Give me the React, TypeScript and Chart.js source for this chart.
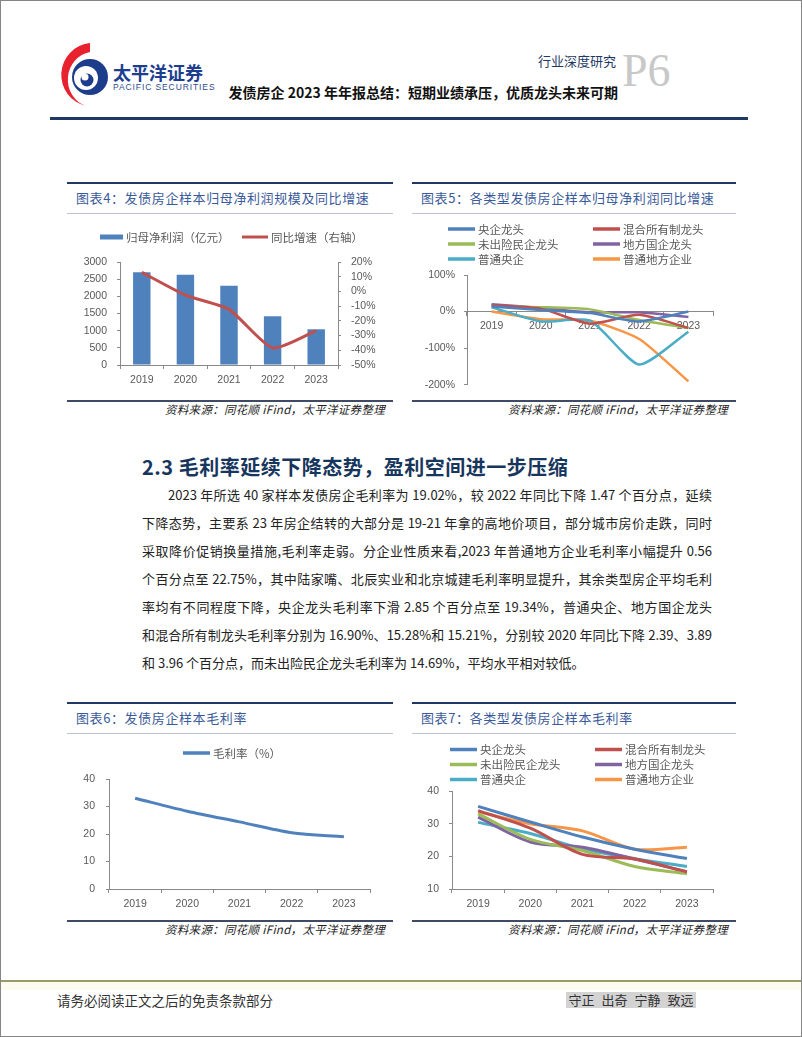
import React, { useEffect, useRef } from 'react';
import { Chart, registerables } from 'chart.js';

Chart.register(...registerables);

// ---------- data ----------
const YEARS = ['2019', '2020', '2021', '2022', '2023'];

// 图表4
const NET_PROFIT = [2700, 2630, 2310, 1420, 1040];
const NET_PROFIT_YOY = [13.0, -2.5, -12.2, -38.4, -26.7];

// 图表5 / 图表7 series names & colours
const TYPE_NAMES = ['央企龙头', '混合所有制龙头', '未出险民企龙头', '地方国企龙头', '普通央企', '普通地方企业'];
const TYPE_COLORS = ['#4F81BD', '#C0504D', '#9BBB59', '#8064A2', '#4BACC6', '#F79646'];

// 图表5 (%)
const YOY_SOE_LEADER = [14, 4, -4, -27, 0];
const YOY_MIXED_LEADER = [17, 8, -33, -9, -45];
const YOY_PRIVATE_LEADER = [14, 12, 6, -23, -45];
const YOY_LOCAL_SOE_LEADER = [20, 10, -2, -2, -15];
const YOY_SOE_ORDINARY = [12, -27, -25, -145, -55];
const YOY_LOCAL_ORDINARY = [0, -21, -25, -75, -191];

// 图表6 (%)
const GROSS_MARGIN = [33.0, 28.3, 24.4, 20.49, 19.02];

// 图表7 (%)
const GM_SOE_LEADER = [35.3, 30.5, 25.9, 22.19, 19.34];
const GM_MIXED_LEADER = [34.0, 28.6, 20.6, 19.17, 15.21];
const GM_PRIVATE_LEADER = [33.0, 25.2, 21.8, 16.9, 14.69];
const GM_LOCAL_SOE_LEADER = [32.0, 24.4, 22.8, 19.17, 15.28];
const GM_SOE_ORDINARY = [30.4, 27.0, 22.3, 19.29, 16.9];
const GM_LOCAL_ORDINARY = [33.6, 30.0, 27.8, 22.19, 22.75];

const PARAGRAPH_LINES = [
  '2023 年所选 40 家样本发债房企毛利率为 19.02%，较 2022 年同比下降 1.47 个百分点，延续',
  '下降态势，主要系 23 年房企结转的大部分是 19-21 年拿的高地价项目，部分城市房价走跌，同时',
  '采取降价促销换量措施,毛利率走弱。分企业性质来看,2023 年普通地方企业毛利率小幅提升 0.56',
  '个百分点至 22.75%，其中陆家嘴、北辰实业和北京城建毛利率明显提升，其余类型房企平均毛利',
  '率均有不同程度下降，央企龙头毛利率下滑 2.85 个百分点至 19.34%，普通央企、地方国企龙头',
  '和混合所有制龙头毛利率分别为 16.90%、15.28%和 15.21%，分别较 2020 年同比下降 2.39、3.89',
  '和 3.96 个百分点，而未出险民企龙头毛利率为 14.69%，平均水平相对较低。',
];

const MOTTO = ['守正', '出奇', '宁静', '致远'];

// ---------- styles ----------
const CJK = '"Noto Sans CJK SC", "Noto Sans", sans-serif';
const AXIS_COLOR = '#898989';
const LABEL_COLOR = '#595959';
const NUM_FONT = { family: '"Liberation Sans", Arial, sans-serif', size: 10.5 };
const NAVY = '#1F3864';

const gridLegend = {
  id: 'gridLegend',
  afterDraw(chart: any, _a: any, o: any) {
    if (!o || !o.cols) return;
    const ctx = chart.ctx;
    ctx.save();
    ctx.font = `${o.size || 11.5}px ${CJK}`;
    ctx.textBaseline = 'middle';
    ctx.textAlign = 'left';
    const nc = o.cols.length;
    chart.data.datasets.forEach((ds: any, i: number) => {
      const x = o.cols[i % nc];
      const y = o.rows[Math.floor(i / nc)];
      const sw = Array.isArray(o.swatchW) ? o.swatchW[i] : o.swatchW;
      if (ds.type === 'bar') {
        ctx.fillStyle = ds.backgroundColor;
        ctx.fillRect(x, y - 2.5, sw, 5);
      } else {
        ctx.strokeStyle = ds.borderColor;
        ctx.lineWidth = o.lineW || 3;
        ctx.lineCap = 'butt';
        ctx.beginPath();
        ctx.moveTo(x, y);
        ctx.lineTo(x + sw, y);
        ctx.stroke();
      }
      ctx.fillStyle = LABEL_COLOR;
      ctx.fillText(ds.label, x + sw + 3, y + 0.5);
    });
    ctx.restore();
  },
};

const base = {
  responsive: false,
  maintainAspectRatio: false,
  animation: false,
  devicePixelRatio: 1,
  events: [],
};

function xScale(height: number, padding: number): any {
  return {
    type: 'category',
    offset: true,
    grid: { offset: true, drawOnChartArea: false, drawTicks: true, tickLength: 4, color: AXIS_COLOR, lineWidth: 1 },
    border: { display: true, color: AXIS_COLOR, width: 1 },
    ticks: { color: LABEL_COLOR, font: NUM_FONT, padding, maxRotation: 0, autoSkip: false },
    afterFit: (s: any) => {
      s.height = height;
    },
  };
}

function yScale(position: string, min: number, max: number, step: number, width: number, padding: number, suffix: string): any {
  return {
    type: 'linear',
    position,
    min,
    max,
    grid: { drawOnChartArea: false, drawTicks: true, tickLength: 3, color: AXIS_COLOR, lineWidth: 1 },
    border: { display: true, color: AXIS_COLOR, width: 1 },
    ticks: {
      stepSize: step,
      autoSkip: false,
      color: LABEL_COLOR,
      font: NUM_FONT,
      padding,
      callback: (v: any) => `${v}${suffix}`,
    },
    afterFit: (s: any) => {
      s.width = width;
    },
  };
}

function lineSet(label: string, data: number[], color: string, width: number, tension: number): any {
  return {
    type: 'line',
    label,
    data,
    borderColor: color,
    backgroundColor: color,
    borderWidth: width,
    pointRadius: 0,
    tension,
    fill: false,
  };
}

function chart4(): any {
  return {
    type: 'bar',
    data: {
      labels: YEARS,
      datasets: [
        { type: 'bar', label: '归母净利润（亿元）', data: NET_PROFIT, backgroundColor: '#4F81BD', yAxisID: 'y', barPercentage: 0.4, categoryPercentage: 1, order: 2 },
        { ...lineSet('同比增速（右轴）', NET_PROFIT_YOY, '#C0504D', 3, 0.2), yAxisID: 'y1', order: 1 },
      ],
    },
    options: {
      ...base,
      layout: { padding: { top: 48, right: 0, bottom: 0, left: 0 } },
      plugins: { legend: { display: false }, tooltip: { enabled: false }, gridLegend: { cols: [33, 175], rows: [23], swatchW: [23, 26] } },
      scales: {
        x: xScale(35, 5),
        y: yScale('left', 0, 3000, 500, 53, 10, ''),
        y1: yScale('right', -50, 20, 10, 55, 10, '%'),
      },
    },
    plugins: [gridLegend],
  };
}

function chart5(): any {
  const series = [YOY_SOE_LEADER, YOY_MIXED_LEADER, YOY_PRIVATE_LEADER, YOY_LOCAL_SOE_LEADER, YOY_SOE_ORDINARY, YOY_LOCAL_ORDINARY];
  return {
    type: 'line',
    data: {
      labels: YEARS,
      datasets: series.map((d, i) => lineSet(TYPE_NAMES[i], d, TYPE_COLORS[i], 2.5, 0.2)),
    },
    options: {
      ...base,
      layout: { padding: { top: 61, right: 23, bottom: 15, left: 0 } },
      plugins: { legend: { display: false }, tooltip: { enabled: false }, gridLegend: { cols: [36, 181], rows: [15, 30, 45], swatchW: 27, lineW: 3.5 } },
      scales: {
        x: { ...xScale(0, 4), position: { y: 0 } },
        y: yScale('left', -200, 100, 100, 55, 9, '%'),
      },
    },
    plugins: [gridLegend],
  };
}

function chart6(): any {
  return {
    type: 'line',
    data: {
      labels: YEARS,
      datasets: [lineSet('毛利率（%）', GROSS_MARGIN, '#4F81BD', 3, 0.3)],
    },
    options: {
      ...base,
      layout: { padding: { top: 44, right: 23, bottom: 0, left: 0 } },
      plugins: { legend: { display: false }, tooltip: { enabled: false }, gridLegend: { cols: [116], rows: [18], swatchW: 27, lineW: 3.5 } },
      scales: {
        x: xScale(31, 5),
        y: yScale('left', 0, 40, 10, 42, 11, ''),
      },
    },
    plugins: [gridLegend],
  };
}

function chart7(): any {
  const series = [GM_SOE_LEADER, GM_MIXED_LEADER, GM_PRIVATE_LEADER, GM_LOCAL_SOE_LEADER, GM_SOE_ORDINARY, GM_LOCAL_ORDINARY];
  return {
    type: 'line',
    data: {
      labels: YEARS,
      datasets: series.map((d, i) => lineSet(TYPE_NAMES[i], d, TYPE_COLORS[i], 3, 0.3)),
    },
    options: {
      ...base,
      layout: { padding: { top: 56, right: 23, bottom: 0, left: 0 } },
      plugins: { legend: { display: false }, tooltip: { enabled: false }, gridLegend: { cols: [38, 183], rows: [14.5, 29.5, 44.5], swatchW: 27, lineW: 3.5 } },
      scales: {
        x: xScale(31, 5),
        y: yScale('left', 10, 40, 10, 40, 10, ''),
      },
    },
    plugins: [gridLegend],
  };
}

// ---------- components ----------
function ChartCanvas({ left, top, width, height, make }: any) {
  const ref = useRef<HTMLCanvasElement>(null);
  useEffect(() => {
    const c = new Chart(ref.current as HTMLCanvasElement, make());
    return () => c.destroy();
  }, []);
  return <canvas ref={ref} width={width} height={height} style={{ position: 'absolute', left, top, width, height }} />;
}

function T({ left, right, cy, size, color = '#222', weight = 400, lh, style = {}, children }: any) {
  const h = lh || Math.round(size * 1.5);
  const s: any = {
    position: 'absolute',
    top: cy - h / 2,
    height: h,
    lineHeight: `${h}px`,
    fontSize: size,
    color,
    fontWeight: weight,
    whiteSpace: 'pre',
    ...style,
  };
  if (left !== undefined) s.left = left;
  if (right !== undefined) s.right = 802 - right;
  return <div style={s}>{children}</div>;
}

function Frame({ x, w, top, bottom, title }: any) {
  return (
    <>
      <div style={{ position: 'absolute', left: x, top, width: w, height: 2, background: NAVY }} />
      <T left={x + 9} cy={top + 16} size={13} color="#3A5A9A" style={{ letterSpacing: 0.6 }}>
        {title}
      </T>
      <div style={{ position: 'absolute', left: x, top: top + 31, width: w, height: 1, background: '#BCC4D4' }} />
      <div style={{ position: 'absolute', left: x, top: bottom, width: w, height: 1.5, background: '#3E4A66' }} />
      <T right={x + w - 8} cy={bottom + 9.5} size={11.5} color="#222" style={{ fontStyle: 'italic', letterSpacing: 0.3 }}>
        资料来源：同花顺 iFind，太平洋证券整理
      </T>
    </>
  );
}

export default function App() {
  return (
    <div style={{ position: 'relative', width: 802, height: 1037, background: '#fff', overflow: 'hidden', fontFamily: CJK }}>
      <style>{'html,body{margin:0;padding:0;background:#fff;}'}</style>

      {/* logo */}
      <svg width={802} height={130} style={{ position: 'absolute', left: 0, top: 0 }}>
        <path d="M 90 43 A 32 32 0 0 0 86 106 A 27 28 0 0 1 90 52 Z" fill="#E8212E" />
        <circle cx={90} cy={77} r={18} fill="#1E3C8C" />
        <circle cx={86} cy={78} r={12} fill="#fff" />
        <circle cx={87} cy={80} r={6.5} fill="#1E3C8C" />
        <circle cx={85} cy={77} r={3.5} fill="#fff" />
      </svg>
      <T left={113} cy={72.5} size={18} weight={700} color="#1D3E8F">
        太平洋证券
      </T>
      <T left={113} cy={87.5} size={8.5} color="#2B4C8C" style={{ fontFamily: '"Liberation Sans", Arial, sans-serif', letterSpacing: 0.9 }}>
        PACIFIC SECURITIES
      </T>
      <T right={616} cy={61} size={13} color={NAVY}>
        行业深度研究
      </T>
      <div style={{ position: 'absolute', left: 622, top: 45, height: 52, lineHeight: '52px', fontSize: 46, color: '#C8C8C8', fontFamily: '"Liberation Serif", serif' }}>P6</div>
      <T right={618} cy={92} size={14} weight={700} color="#111">
        发债房企 2023 年年报总结：短期业绩承压，优质龙头未来可期
      </T>
      <div style={{ position: 'absolute', left: 50, top: 117, width: 698, height: 3, background: NAVY }} />

      {/* chart 4 & 5 */}
      <Frame x={67} w={326} top={182} bottom={400} title="图表4：发债房企样本归母净利润规模及同比增速" />
      <ChartCanvas left={67} top={214} width={326} height={186} make={chart4} />
      <Frame x={412} w={324} top={182} bottom={400} title="图表5：各类型发债房企样本归母净利润同比增速" />
      <ChartCanvas left={412} top={214} width={324} height={186} make={chart5} />

      {/* section text */}
      <T left={142} cy={467} size={20} weight={700} color="#17365D" style={{ letterSpacing: 0.5 }}>
        2.3 毛利率延续下降态势，盈利空间进一步压缩
      </T>
      {PARAGRAPH_LINES.map((line, i) => {
        const last = i === PARAGRAPH_LINES.length - 1;
        return (
          <div
            key={i}
            style={{
              position: 'absolute',
              left: 142,
              width: 570,
              top: 495 + i * 28 - 10,
              height: 20,
              lineHeight: '20px',
              fontSize: 13,
              color: '#222',
              textAlign: last ? 'left' : 'justify',
              textAlignLast: last ? 'left' : 'justify',
              textIndent: i === 0 ? 26 : 0,
              overflow: 'visible',
            } as any}
          >
            {line}
          </div>
        );
      })}

      {/* chart 6 & 7 */}
      <Frame x={67} w={326} top={702} bottom={920} title="图表6：发债房企样本毛利率" />
      <ChartCanvas left={67} top={735} width={326} height={185} make={chart6} />
      <Frame x={412} w={324} top={702} bottom={920} title="图表7：各类型发债房企样本毛利率" />
      <ChartCanvas left={412} top={735} width={324} height={185} make={chart7} />

      {/* footer */}
      <div style={{ position: 'absolute', left: 0, top: 980, width: 802, height: 2, background: '#9A9A6A' }} />
      <div style={{ position: 'absolute', left: 0, top: 982, width: 802, height: 8, background: '#FBFBEF' }} />
      <T left={57} cy={1000} size={13.5} color="#333">
        请务必阅读正文之后的免责条款部分
      </T>
      <div style={{ position: 'absolute', left: 566, top: 992, width: 130, height: 16, lineHeight: '16px', background: '#D3D3D3', fontSize: 13, color: '#333', display: 'flex', justifyContent: 'center', gap: 7 }}>
        {MOTTO.map((m) => (
          <span key={m}>{m}</span>
        ))}
      </div>

      <div style={{ position: 'absolute', left: 0, top: 0, width: 802, height: 1037, boxSizing: 'border-box', border: '1px solid #858585', pointerEvents: 'none' }} />
    </div>
  );
}
